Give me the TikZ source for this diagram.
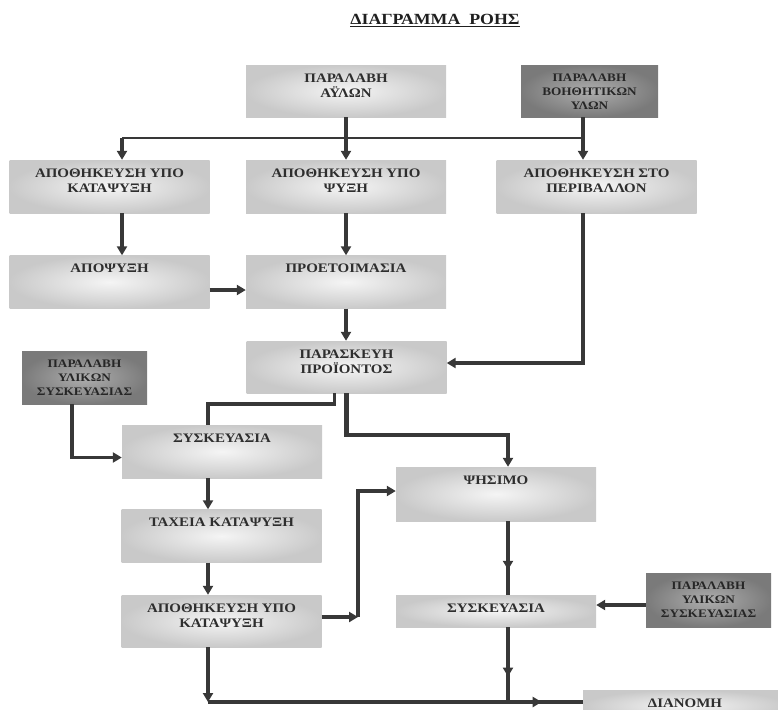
\documentclass[tikz,border=0pt]{standalone}
\usepackage{fontspec}
\setmainfont{Liberation Serif}[FakeStretch=1.15]
\usetikzlibrary{arrows.meta, decorations.markings}

\begin{document}
\begin{tikzpicture}[x=1pt, y=-1pt,
	stage/.style={rectangle, align=center, inner xsep=2pt, inner ysep=0pt, minimum width=200pt, text height=17pt, text depth=36pt, inner color=black!4, outer color=black!21, text=black!82, font=\fontsize{13}{15}\selectfont\bfseries},
	stage2/.style={stage, text height=32pt, text depth=21pt},
	low stage/.style={stage, text depth=15pt},
	supply/.style={stage, minimum width=125pt, text height=44pt, text depth=9pt, inner color=black!32, outer color=black!52, text=black!85, font=\fontsize{11.5}{14}\selectfont\bfseries},
	link/.style={draw=black!78, line width=3.2pt},
	flow/.style={link, -{Triangle[length=9pt, width=10pt]}},
	midflow/.style={link, postaction={decorate}, decoration={markings, mark=at position #1 with {\arrow{Triangle[length=9pt, width=10pt]}}}},
	midflow/.default=0.66]
	\useasboundingbox (0,0) rectangle (778,709);
	\node[anchor=base, text=black!88, font=\fontsize{15.5}{17}\selectfont\bfseries] (title) at (435,25) {\underline{ΔΙΑΓΡΑΜΜΑ\ \ ΡΟΗΣ}};

	\node[stage2, text depth=20pt] (A) at (346,91) {ΠΑΡΑΛΑΒΗ\\ΑΫΛΩΝ};
	\node[supply, minimum width=137pt, text depth=8pt] (B) at (589.5,91) {ΠΑΡΑΛΑΒΗ\\ΒΟΗΘΗΤΙΚΩΝ\\ΥΛΩΝ};
	\node[stage2] (C) at (109.5,186.5) {ΑΠΟΘΗΚΕΥΣΗ ΥΠΟ\\ΚΑΤΑΨΥΞΗ};
	\node[stage2] (D) at (346,186.5) {ΑΠΟΘΗΚΕΥΣΗ ΥΠΟ\\ΨΥΞΗ};
	\node[stage2] (E) at (596.5,186.5) {ΑΠΟΘΗΚΕΥΣΗ ΣΤΟ\\ΠΕΡΙΒΑΛΛΟΝ};
	\node[stage] (F) at (109.5,282) {ΑΠΟΨΥΞΗ};
	\node[stage] (G) at (346,282) {ΠΡΟΕΤΟΙΜΑΣΙΑ};
	\node[stage2, text depth=20pt] (H) at (346.5,367) {ΠΑΡΑΣΚΕΥΗ\\ΠΡΟΪΟΝΤΟΣ};
	\node[supply] (I) at (84.5,377.5) {ΠΑΡΑΛΑΒΗ\\ΥΛΙΚΩΝ\\ΣΥΣΚΕΥΑΣΙΑΣ};
	\node[stage] (J) at (222,451.5) {ΣΥΣΚΕΥΑΣΙΑ};
	\node[stage, text depth=37pt] (K) at (496,494) {ΨΗΣΙΜΟ};
	\node[stage] (O) at (221.5,536) {ΤΑΧΕΙΑ ΚΑΤΑΨΥΞΗ};
	\node[stage2, text depth=20pt] (P) at (221.5,621) {ΑΠΟΘΗΚΕΥΣΗ ΥΠΟ\\ΚΑΤΑΨΥΞΗ};
	\node[low stage] (L) at (496,611) {ΣΥΣΚΕΥΑΣΙΑ};
	\node[supply, text depth=10pt] (M) at (708.5,600) {ΠΑΡΑΛΑΒΗ\\ΥΛΙΚΩΝ\\ΣΥΣΚΕΥΑΣΙΑΣ};
	\node[low stage, minimum width=204pt] (N) at (685,706) {ΔΙΑΝΟΜΗ};

	% junctions
	\coordinate (jL) at (122,138);
	\coordinate (jR) at (583,138);
	\coordinate (jHJ) at (208,404);
	\coordinate (jK) at (508,435);
	\coordinate (jI) at (72,457);
	\coordinate (jP) at (358,617);
	\coordinate (jD1) at (208,702);
	\coordinate (jD2) at (508,702);

	\draw[link, line width=2.6pt] (jL) -- (jR);
	\draw[link] (B.south -| jR) -- (jR);
	\draw[flow] (A.south) -- (D.north);
	\draw[flow] (jL) -- (C.north -| jL);
	\draw[flow] (jR) -- (E.north -| jR);
	\draw[flow] (C.south -| jL) -- (F.north -| jL);
	\draw[flow] (D.south) -- (G.north);
	\draw[flow] ([yshift=-8pt]F.east) -- ([yshift=-8pt]F.east -| G.west);
	\draw[flow] (G.south) -- (G.south |- H.north);
	\draw[flow] (E.south -| jR) |- ([yshift=4pt]H.east);
	\draw[link] ([xshift=-12pt]H.south) |- (jHJ) -- (jHJ |- J.north);
	\draw[flow, line width=4.5pt] (H.south) |- (jK) -- (jK |- K.north);
	\draw[flow] (I.south -| jI) |- ([yshift=-6pt]J.west);
	\draw[flow] (J.south -| jHJ) -- (O.north -| jHJ);
	\draw[flow] (O.south -| jHJ) -- (P.north -| jHJ);
	\draw[flow] ([yshift=4pt]P.east) -- (jP);
	\draw[flow] (jP) |- ([yshift=3pt]K.west);
	\draw[flow] (P.south -| jD1) -- (jD1);
	\draw[link] (jD1) -- (jD2);
	\draw[midflow] (K.south -| jK) -- (L.north -| jK);
	\draw[midflow] (L.south -| jK) -- (jD2);
	\draw[midflow=0.45] (jD2) -- (N.west |- jD2);
	\draw[flow] ([yshift=-5pt]M.west) -- ([yshift=-5pt]M.west -| L.east);
\end{tikzpicture}
\end{document}
